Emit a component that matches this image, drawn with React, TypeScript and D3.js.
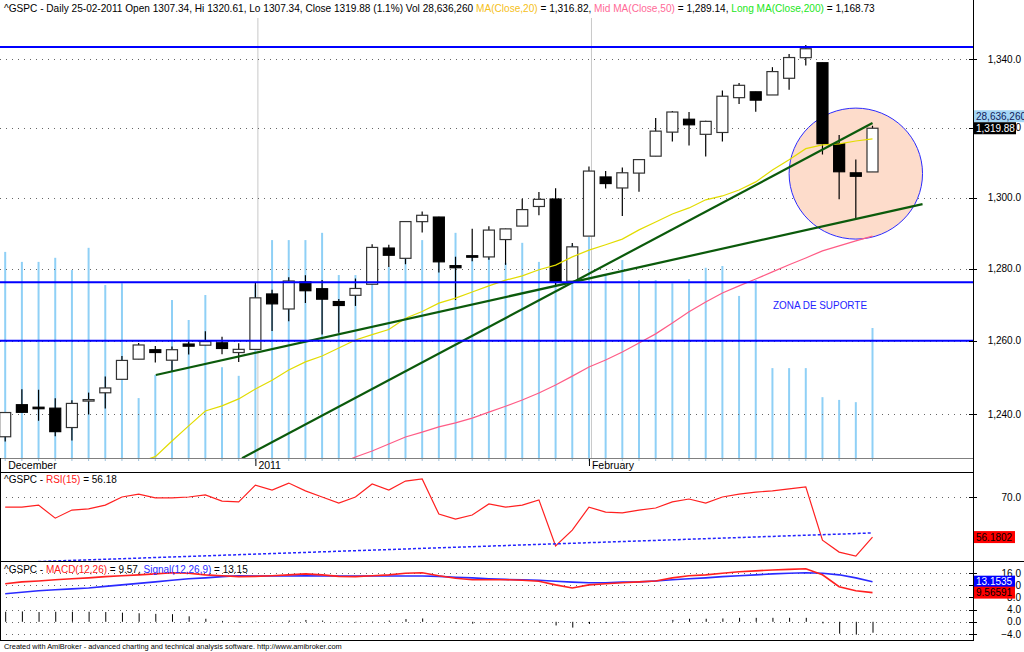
import * as d3 from "d3";

// ^GSPC daily bars, 10 Dec 2010 .. 25 Feb 2011
const dates = [
  "12-10", "12-13", "12-14", "12-15", "12-16", "12-17", "12-20", "12-21", "12-22", "12-23",
  "12-27", "12-28", "12-29", "12-30", "12-31",
  "01-03", "01-04", "01-05", "01-06", "01-07", "01-10", "01-11", "01-12", "01-13", "01-14",
  "01-18", "01-19", "01-20", "01-21", "01-24", "01-25", "01-26", "01-27", "01-28", "01-31",
  "02-01", "02-02", "02-03", "02-04", "02-07", "02-08", "02-09", "02-10", "02-11", "02-14",
  "02-15", "02-16", "02-17", "02-18", "02-22", "02-23", "02-24", "02-25",
];
const open = [
  1233.85, 1242.52, 1241.84, 1241.58, 1236.34, 1243.63, 1245.76, 1249.43, 1254.94, 1257.53,
  1254.66, 1259.1, 1258.78, 1259.44, 1256.76,
  1257.62, 1272.95, 1268.78, 1276.29, 1274.41, 1270.84, 1272.58, 1275.65, 1285.78, 1282.9,
  1293.22, 1294.52, 1280.85, 1283.63, 1283.29, 1288.17, 1291.97, 1297.51, 1299.63, 1276.5,
  1289.14, 1305.91, 1302.77, 1307.01, 1311.85, 1318.76, 1322.48, 1318.13, 1318.66, 1328.73,
  1330.43, 1329.51, 1334.37, 1340.38, 1338.91, 1315.44, 1307.09, 1307.34,
];
const high = [
  1240.4, 1246.73, 1246.59, 1244.25, 1243.75, 1245.81, 1250.2, 1255.82, 1259.39, 1258.59,
  1258.43, 1259.9, 1262.6, 1261.09, 1259.34,
  1276.17, 1274.12, 1277.63, 1278.17, 1276.83, 1271.52, 1277.25, 1286.87, 1286.7, 1293.24,
  1296.06, 1294.6, 1283.35, 1291.21, 1291.93, 1291.26, 1299.74, 1301.63, 1302.67, 1287.17,
  1308.86, 1307.61, 1308.6, 1311.0, 1322.85, 1324.87, 1324.54, 1322.01, 1330.79, 1332.96,
  1330.43, 1337.61, 1341.5, 1344.07, 1338.91, 1317.91, 1310.91, 1320.61,
];
const low = [
  1232.58, 1240.34, 1238.17, 1234.01, 1232.85, 1239.87, 1241.51, 1249.43, 1254.94, 1254.05,
  1251.48, 1256.22, 1258.78, 1256.32, 1254.19,
  1257.62, 1262.66, 1265.36, 1270.43, 1261.7, 1262.18, 1269.62, 1275.65, 1280.47, 1281.24,
  1290.16, 1278.92, 1271.26, 1282.07, 1282.47, 1281.07, 1291.97, 1295.02, 1275.1, 1276.5,
  1289.14, 1302.62, 1294.83, 1301.67, 1311.85, 1316.03, 1314.89, 1311.74, 1316.08, 1326.9,
  1324.61, 1329.51, 1331.0, 1338.12, 1312.33, 1299.55, 1294.26, 1307.34,
];
const close = [
  1240.4, 1240.46, 1241.59, 1235.23, 1242.87, 1243.91, 1247.08, 1254.6, 1258.84, 1256.77,
  1257.54, 1258.51, 1259.78, 1257.88, 1257.64,
  1271.87, 1270.2, 1276.56, 1273.85, 1271.5, 1269.75, 1274.48, 1285.96, 1283.76, 1293.24,
  1295.02, 1281.92, 1280.26, 1283.35, 1290.84, 1291.18, 1296.63, 1299.54, 1276.34, 1286.12,
  1307.59, 1304.03, 1307.1, 1310.87, 1319.05, 1324.57, 1320.88, 1321.87, 1329.15, 1332.32,
  1328.01, 1336.32, 1340.43, 1343.01, 1315.44, 1307.4, 1306.1, 1319.88,
];
// volume, millions
const volume = [
  45.4, 43.2, 43.2, 44.1, 41.4, 46.3, 38.1, 38.5, 13.2, 18.3,
  34.8, 30.4, 35.9, 20.0, 18.1,
  38.1, 48.0, 48.0, 48.0, 49.6, 40.3, 40.3, 43.6, 42.1, 44.1,
  48.0, 45.8, 49.6, 44.3, 44.1, 43.0, 47.4, 43.2, 49.1, 46.9,
  48.7, 40.3, 43.6, 39.2, 39.2, 38.5, 39.4, 41.9, 42.3, 35.7,
  39.2, 19.8, 19.8, 19.8, 13.4, 12.8, 12.3, 28.63626,
];
const ma20: (number | null)[] = [
  null, null, null, null, null, null, null, null, 1227.0, 1228.5,
  1232.7, 1236.8, 1240.8, 1242.2, 1244.1,
  1246.8, 1249.2, 1252.0, 1254.2, 1255.8, 1258.0, 1260.2, 1261.7, 1263.1, 1266.2,
  1268.1, 1270.4, 1271.8, 1273.5, 1275.2, 1276.8, 1278.0, 1279.7, 1281.0, 1283.3,
  1285.2, 1286.7, 1288.3, 1290.9, 1293.1, 1295.4, 1297.1, 1299.4, 1300.5, 1302.2,
  1304.5, 1307.9, 1310.8, 1314.0, 1315.1, 1315.4, 1316.2, 1316.82,
];
const ma50: (number | null)[] = [
  null, null, null, null, null, null, null, null, null, null,
  null, null, null, null, null,
  null, null, null, null, null, 1226.5, 1228.4, 1230.0, 1231.9, 1233.8,
  1235.1, 1236.5, 1237.6, 1238.9, 1240.5, 1242.1, 1243.8, 1245.7, 1247.9, 1250.3,
  1252.8, 1254.7, 1256.9, 1259.4, 1261.9, 1264.9, 1268.0, 1270.7, 1273.2, 1275.2,
  1277.1, 1279.1, 1281.1, 1283.0, 1285.0, 1286.4, 1287.8, 1289.14,
];
const rsi = [
  66.5, 66.5, 67.2, 62.7, 65.5, 65.9, 67.2, 70.0, 71.0, 69.7,
  69.7, 70.0, 70.7, 68.6, 68.3,
  74.1, 72.4, 74.8, 72.1, 70.0, 67.9, 70.0, 74.5, 72.4, 75.5,
  76.2, 64.1, 62.4, 63.8, 67.6, 66.5, 67.2, 69.0, 53.1, 58.6,
  66.5, 64.8, 64.5, 65.5, 66.2, 68.3, 69.3, 67.9, 70.0, 71.0,
  71.7, 72.1, 72.8, 73.5, 55.1, 51.0, 49.6, 56.18,
];
const macd = [
  12.5, 13.1, 13.4, 13.8, 14.1, 14.4, 14.8, 15.1, 15.4, 15.7,
  16.1, 15.9, 15.4, 15.1, 14.8,
  14.9, 15.1, 15.4, 15.7, 15.4, 14.9, 14.8, 15.1, 15.4, 15.9,
  16.1, 15.1, 14.3, 13.8, 13.8, 13.8, 13.6, 13.3, 12.1, 11.1,
  12.1, 12.5, 12.8, 13.1, 13.4, 14.4, 15.1, 15.4, 15.9, 16.4,
  16.7, 17.0, 17.2, 17.4, 15.4, 11.5, 10.2, 9.57,
];
const signal = [
  9.2, 9.7, 10.2, 10.5, 10.8, 11.1, 11.6, 12.1, 12.6, 13.1,
  13.6, 14.1, 14.4, 14.8, 15.1,
  15.0, 15.0, 15.0, 15.1, 15.0, 15.0, 15.0, 15.0, 15.0, 15.0,
  15.0, 14.9, 14.6, 14.4, 14.1, 13.9, 13.8, 13.6, 13.3, 13.0,
  12.8, 12.8, 13.0, 13.1, 13.4, 13.8, 14.1, 14.4, 14.8, 15.1,
  15.4, 15.7, 15.9, 16.1, 15.9, 15.4, 14.4, 13.15,
];

const monthIdx = [0, 15, 35];
const monthText = ["December", "2011", "February"];
const priceTicks = [1240, 1260, 1280, 1300, 1320, 1340];
const rsiTicks = [70];
const macdTicks = [16, 12, 8, 4, 0, -4];

// user drawings: support levels, trend lines (bar index, price), circle box
const supportLevels = [1343.5, 1276.2, 1260];
const trendLines = [
  { i1: 9.03, p1: 1250.6, i2: 55.0, p2: 1298.2 },
  { i1: 14.2, p1: 1228.1, i2: 52.0, p2: 1321.4 },
];
const rsiTrend = { i1: 0.78, v1: 47.5, i2: 52, v2: 57.6 };
const circleIdx = [47, 55];
const circlePrice = [1325.7, 1288.3];

const FONT = "'Liberation Sans', Arial, sans-serif";
const AX = 973;

function fmt(v: number) {
  return d3.format(",.1f")(v);
}

function ValueBox({ y, text, bg, color, width }: { y: number; text: string; bg: string; color: string; width: number }) {
  return (
    <g>
      <rect x={AX + 1} y={y - 6} width={width} height={12} fill={bg} />
      <text x={AX + 3} y={y + 3.5} fontSize={10} fill={color} fontFamily={FONT}>
        {text}
      </text>
    </g>
  );
}

export default function App() {
  const x = d3.scaleLinear().domain([0, 52]).range([5.2, 872.5]);
  const yP = d3.scaleLog().domain([1240, 1340]).range([414, 59]);
  const yV = d3.scaleLinear().domain([0, 28.636]).range([458, 328]);
  const yR = d3.scaleLinear().domain([50, 70]).range([555, 497]);
  const yM = d3.scaleLinear().domain([-4, 16]).range([634, 573]);

  const idx = d3.range(dates.length);

  const maLine = d3
    .line<number | null>()
    .defined((d) => d != null)
    .x((_, i) => x(i))
    .y((d) => yP(d as number));
  const rsiLine = d3
    .line<number>()
    .x((_, i) => x(i))
    .y((d) => yR(d));
  const macdLine = d3
    .line<number>()
    .x((_, i) => x(i))
    .y((d) => yM(d));

  const cx = (x(circleIdx[0]) + x(circleIdx[1])) / 2;
  const rx = (x(circleIdx[1]) - x(circleIdx[0])) / 2;
  const cy = (yP(circlePrice[0]) + yP(circlePrice[1])) / 2;
  const ry = (yP(circlePrice[1]) - yP(circlePrice[0])) / 2;

  const last = dates.length - 1;

  return (
    <svg
      width={1024}
      height={652}
      style={{ position: "absolute", left: 0, top: 0, background: "#fff" }}
      fontFamily={FONT}
    >
      <defs>
        <clipPath id="main">
          <rect x={0} y={0} width={AX} height={458} />
        </clipPath>
        <clipPath id="rsi">
          <rect x={0} y={473} width={AX} height={88} />
        </clipPath>
        <clipPath id="macd">
          <rect x={0} y={562} width={AX} height={78} />
        </clipPath>
      </defs>

      {/* main pane */}
      <g clipPath="url(#main)">
        {idx.map((i) => (
          <line
            key={"v" + i}
            x1={x(i)}
            x2={x(i)}
            y1={458}
            y2={yV(volume[i])}
            stroke="#8fd0f6"
            strokeWidth={2}
          />
        ))}
        {[15, 35].map((i) => (
          <line key={"sep" + i} x1={x(i) + 2.5} x2={x(i) + 2.5} y1={18} y2={458} stroke="#c8c8c8" />
        ))}
        {priceTicks.map((t) => (
          <line
            key={"g" + t}
            x1={0}
            x2={AX}
            y1={Math.round(yP(t)) + 0.5}
            y2={Math.round(yP(t)) + 0.5}
            stroke="#666"
            strokeDasharray="1 5"
          />
        ))}
        <ellipse cx={cx} cy={cy} rx={rx} ry={ry} fill="#fddccb" stroke="#2b2bff" strokeWidth={1} />

        {idx.map((i) => {
          const up = close[i] >= open[i];
          const top = yP(Math.max(open[i], close[i]));
          const bot = yP(Math.min(open[i], close[i]));
          const h = Math.max(bot - top, 1.5);
          return (
            <g key={"c" + i}>
              <line x1={x(i)} x2={x(i)} y1={yP(high[i])} y2={yP(low[i])} stroke="#000" strokeWidth={1.2} />
              <rect
                x={x(i) - 5.5}
                y={top}
                width={11}
                height={h}
                fill={up ? "#fff" : "#000"}
                stroke={up ? "#333" : "#000"}
                strokeWidth={1.2}
              />
            </g>
          );
        })}

        <path d={maLine(ma50) ?? ""} fill="none" stroke="#ff5c86" strokeWidth={1.2} />
        <path d={maLine(ma20) ?? ""} fill="none" stroke="#e2dc00" strokeWidth={1.2} />

        {trendLines.map((t, k) => (
          <line
            key={"t" + k}
            x1={x(t.i1)}
            y1={yP(t.p1)}
            x2={x(t.i2)}
            y2={yP(t.p2)}
            stroke="#0b5a0b"
            strokeWidth={2.2}
          />
        ))}
        {supportLevels.map((p) => (
          <line key={"s" + p} x1={0} x2={AX} y1={yP(p)} y2={yP(p)} stroke="#0000ff" strokeWidth={2} />
        ))}
        <text x={773} y={309} fontSize={11} fill="#2424ff" textLength={94} lengthAdjust="spacingAndGlyphs">
          ZONA DE SUPORTE
        </text>
      </g>

      {/* header */}
      <text x={4} y={12} fontSize={10.1} fill="#000">
        ^GSPC - Daily 25-02-2011 Open 1307.34, Hi 1320.61, Lo 1307.34, Close 1319.88 (1.1%) Vol 28,636,260{" "}
        <tspan fill="#f5c020">MA(Close,20)</tspan>
        <tspan> = 1,316.82, </tspan>
        <tspan fill="#ff6a98">Mid MA(Close,50)</tspan>
        <tspan> = 1,289.14, </tspan>
        <tspan fill="#22e622">Long MA(Close,200)</tspan>
        <tspan> = 1,168.73</tspan>
      </text>

      {/* price axis */}
      {priceTicks.map((t) => (
        <g key={"pt" + t}>
          <line x1={AX - 4} x2={AX + 4} y1={Math.round(yP(t)) + 0.5} y2={Math.round(yP(t)) + 0.5} stroke="#000" />
          <text x={1021} y={yP(t) + 3.5} fontSize={10} textAnchor="end" fill="#000">
            {fmt(t)}
          </text>
        </g>
      ))}
      <ValueBox
        y={yP(close[last]) - 12}
        text={d3.format(",")(Math.round(volume[last] * 1e6))}
        bg="#a4d6f5"
        color="#10205a"
        width={50}
      />
      <ValueBox y={yP(close[last])} text={d3.format(",.2f")(close[last])} bg="#000" color="#fff" width={42} />

      {/* date strip */}
      <line x1={0} x2={AX} y1={458.5} y2={458.5} stroke="#808080" />
      {idx.map((i) => (
        <line key={"dt" + i} x1={x(i)} x2={x(i)} y1={459} y2={461} stroke="#9ec3dc" />
      ))}
      {monthIdx.map((i, k) => (
        <g key={"m" + i}>
          {i > 0 && <line x1={x(i) + 0.5} x2={x(i) + 0.5} y1={459} y2={466} stroke="#000" />}
          <text x={x(i) + 3} y={468.5} fontSize={10.5} fill="#000">
            {monthText[k]}
          </text>
        </g>
      ))}

      {/* RSI pane */}
      <line x1={0} x2={AX} y1={472.5} y2={472.5} stroke="#000" />
      {rsiTicks.map((t) => (
        <g key={"rt" + t}>
          <line x1={0} x2={AX} y1={Math.round(yR(t)) + 0.5} y2={Math.round(yR(t)) + 0.5} stroke="#666" strokeDasharray="1 5" />
          <line x1={AX - 4} x2={AX + 4} y1={Math.round(yR(t)) + 0.5} y2={Math.round(yR(t)) + 0.5} stroke="#000" />
          <text x={1021} y={yR(t) + 3.5} fontSize={10} textAnchor="end">
            {fmt(t)}
          </text>
        </g>
      ))}
      <g clipPath="url(#rsi)">
        <path d={rsiLine(rsi) ?? ""} fill="none" stroke="#ff2020" strokeWidth={1.2} />
        <line
          x1={x(rsiTrend.i1)}
          y1={yR(rsiTrend.v1)}
          x2={x(rsiTrend.i2)}
          y2={yR(rsiTrend.v2)}
          stroke="#2323ff"
          strokeWidth={1.5}
          strokeDasharray="3 2"
        />
      </g>
      <text x={4} y={483} fontSize={10}>
        ^GSPC - <tspan fill="#ff2020">RSI(15)</tspan> = 56.18
      </text>
      <ValueBox y={yR(rsi[last])} text="56.1802" bg="#ff0000" color="#000" width={41} />

      {/* MACD pane */}
      <line x1={0} x2={1024} y1={561.5} y2={561.5} stroke="#000" />
      {macdTicks.map((t) => (
        <g key={"mt" + t}>
          <line x1={0} x2={AX} y1={Math.round(yM(t)) + 0.5} y2={Math.round(yM(t)) + 0.5} stroke="#666" strokeDasharray="1 5" />
          <line x1={AX - 4} x2={AX + 4} y1={Math.round(yM(t)) + 0.5} y2={Math.round(yM(t)) + 0.5} stroke="#000" />
          <text x={1021} y={yM(t) + 3.5} fontSize={10} textAnchor="end">
            {fmt(t)}
          </text>
        </g>
      ))}
      <g clipPath="url(#macd)">
        {idx.map((i) => (
          <line
            key={"h" + i}
            x1={x(i) + 0.5}
            x2={x(i) + 0.5}
            y1={yM(0)}
            y2={yM(macd[i] - signal[i])}
            stroke="#000"
            strokeWidth={1}
          />
        ))}
        <path d={macdLine(signal) ?? ""} fill="none" stroke="#2a2aff" strokeWidth={1.6} />
        <path d={macdLine(macd) ?? ""} fill="none" stroke="#ff2020" strokeWidth={1.6} />
      </g>
      <text x={4} y={573} fontSize={10}>
        ^GSPC - <tspan fill="#ff2020">MACD(12,26)</tspan> = 9.57, <tspan fill="#2a2aff">Signal(12,26,9)</tspan> = 13.15
      </text>
      <ValueBox y={yM(signal[last])} text="13.1535" bg="#0000ff" color="#fff" width={41} />
      <ValueBox y={yM(macd[last])} text="9.56591" bg="#ff0000" color="#000" width={41} />
      <line x1={0} x2={AX} y1={640.5} y2={640.5} stroke="#000" />

      {/* frame */}
      <line x1={AX + 0.5} x2={AX + 0.5} y1={0} y2={641} stroke="#000" />
      <line x1={0.5} x2={0.5} y1={458} y2={641} stroke="#000" />

      <text x={4} y={649} fontSize={7.4} fill="#000">
        Created with AmiBroker - advanced charting and technical analysis software. http://www.amibroker.com
      </text>
    </svg>
  );
}
